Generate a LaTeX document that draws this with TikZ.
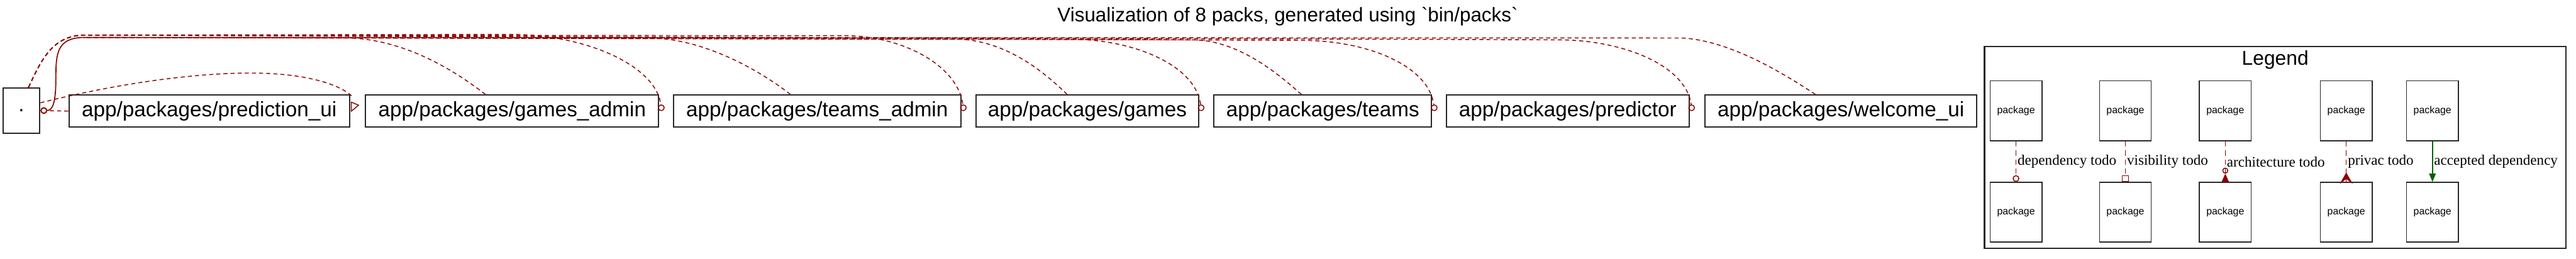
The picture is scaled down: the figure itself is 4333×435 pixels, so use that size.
\documentclass[tikz,border=0pt]{standalone}
\usepackage{fontspec}
\newfontfamily\lsans{Liberation Sans}
\newfontfamily\lserif{Liberation Serif}
\usetikzlibrary{arrows.meta,calc}
\definecolor{dred}{RGB}{139,0,0}
\definecolor{dgreen}{RGB}{0,100,0}
\definecolor{bord}{RGB}{40,40,40}
\begin{document}
\begin{tikzpicture}[x=0.25pt,y=-0.25pt,
 pkg/.style={draw=bord,line width=0.55pt,inner sep=0pt,minimum height=13.5pt,font=\lsans\fontsize{8.8pt}{10pt}\selectfont},
 lpkg/.style={draw=bord,line width=0.45pt,inner sep=0pt,minimum width=21.75pt,minimum height=25pt,font=\lsans\fontsize{4.2pt}{5pt}\selectfont},
 dep/.style={draw=dred,line width=0.38pt,dash pattern=on 1.7pt off 1.3pt},
 ldep/.style={draw=dred,line width=0.38pt,dash pattern=on 2.2pt off 1.6pt},
 odot/.style={-{Circle[open,length=2.8pt,width=2.8pt]}},
 elab/.style={font=\lserif\fontsize{6.1pt}{7pt}\selectfont,anchor=west,inner sep=0.5pt},
]
\useasboundingbox (0,0) rectangle (4333,435);

% title
\node[font=\lsans\fontsize{8.3pt}{10pt}\selectfont,anchor=base] (title) at (2166,37) {Visualization of 8 packs, generated using `bin/packs`};

% package nodes
\node[pkg,minimum width=15.5pt,minimum height=19pt] (dot) at (36,186) {.};
\node[pkg,minimum width=118pt] (pu) at (352,187) {app/packages/prediction\_ui};
\node[pkg,minimum width=123.25pt] (ga) at (861.5,187) {app/packages/games\_admin};
\node[pkg,minimum width=120.75pt] (ta) at (1374.5,187) {app/packages/teams\_admin};
\node[pkg,minimum width=93.5pt] (gm) at (1829,187) {app/packages/games};
\node[pkg,minimum width=91.5pt] (tm) at (2225,187) {app/packages/teams};
\node[pkg,minimum width=102pt] (pr) at (2637,187) {app/packages/predictor};
\node[pkg,minimum width=114.25pt] (wu) at (3096.5,187) {app/packages/welcome\_ui};

\coordinate (split) at (140,59);
\coordinate (merge) at (140,63);

% edges from . to packages
\draw[dep,odot] ([xshift=3pt]dot.north) .. controls (70,100) and (88,61) .. (split) -- (860,58) .. controls (985,58) and (1103,110) .. ($(ga.north east)+(4,28)$);
\draw[dep,odot] ([xshift=3pt]dot.north) .. controls (70,100) and (88,61) .. (split) -- (1420,60) .. controls (1518,60) and (1611,110) .. ($(ta.north east)+(4,28)$);
\draw[dep,odot] ([xshift=3pt]dot.north) .. controls (70,100) and (88,61) .. (split) -- (1800,66) .. controls (1908,66) and (2011,110) .. ($(gm.north east)+(4,28)$);
\draw[dep,odot] ([xshift=3pt]dot.north) .. controls (70,100) and (88,61) .. (split) -- (2190,68) .. controls (2299,68) and (2403,110) .. ($(tm.north east)+(4,28)$);
\draw[dep,odot] ([xshift=3pt]dot.north) .. controls (70,100) and (88,61) .. (split) -- (2620,67) .. controls (2730,67) and (2836,110) .. ($(pr.north east)+(4,28)$);

% edges from packages to .
\draw[dep] ($(ga.north)+(-45,0)$) .. controls (760,115) and (680,68) .. (590,64) -- (merge);
\draw[dep] ($(ta.north)+(-45,0)$) .. controls (1280,120) and (1190,68) .. (1100,64) -- (merge);
\draw[dep] ($(gm.north)+(-34,0)$) .. controls (1750,115) and (1690,70) .. (1615,66) -- (merge);
\draw[dep] ($(tm.north)+(-36,0)$) .. controls (2140,115) and (2080,70) .. (2010,67) -- (merge);
\draw[dep] ($(wu.north)+(-43,0)$) .. controls (2980,110) and (2900,68) .. (2830,64) -- (merge);
\draw[draw=dred,line width=0.45pt,odot] (merge) .. controls (96,64) and (94,90) .. (94,130) .. controls (94,176) and (88,186) .. (dot.east);

% prediction_ui edges
\draw[dep] ($(dot.east)+(0,-13)$) .. controls (200,140) and (330,122) .. (430,123) .. controls (510,124) and (570,140) .. ($(pu.north east)+(4,4)$);
\draw[draw=dred,line width=0.38pt] ($(pu.east)+(2,-15)$) -- ++(12,5) -- ++(-12,10) -- cycle;
\draw[dep,odot] (pu.west) -- (dot.east);

% legend
\node[draw=bord,line width=0.55pt,minimum width=244.5pt,minimum height=85pt,inner sep=0pt] (legend) at (3827,248) {};
\node[font=\lsans\fontsize{8.4pt}{10pt}\selectfont,anchor=base] (legtitle) at (3827,110) {Legend};

\node[lpkg,minimum height=25.25pt] (t1) at (3391,186.5) {package};
\node[lpkg,minimum height=25.25pt] (t2) at (3575,186.5) {package};
\node[lpkg,minimum height=25.25pt] (t3) at (3743,186.5) {package};
\node[lpkg,minimum height=25.25pt] (t4) at (3946.5,186.5) {package};
\node[lpkg,minimum height=25.25pt] (t5) at (4091.5,186.5) {package};
\node[lpkg] (b1) at (3391,357) {package};
\node[lpkg] (b2) at (3575,357) {package};
\node[lpkg] (b3) at (3743,357) {package};
\node[lpkg] (b4) at (3946.5,357) {package};
\node[lpkg] (b5) at (4091.5,357) {package};

\draw[ldep,odot] (t1.south) -- (b1.north) node[elab,midway] {dependency todo};
\draw[ldep,-{Square[open,length=2.75pt,width=3pt]}] (t2.south) -- (b2.north) node[elab,midway] {visibility todo};
\draw[ldep,-{Circle[open,length=2.5pt,width=2.5pt] Triangle[reversed,length=3.5pt,width=3pt]}] (t3.south) -- (b3.north) node[elab,midway] {architecture todo};
\draw[ldep] (t4.south) -- (b4.north) node[elab,midway] {privac todo};
\draw[draw=dred,line width=0.45pt,fill=dred] ($(b4.north)+(-8,0)$) -- ($(b4.north)+(0,-14)$) -- ($(b4.north)+(8,0)$) -- ($(b4.north)+(0,-6)$) -- cycle;
\draw[draw=dgreen,line width=0.4pt,-{Triangle[length=3.5pt,width=2.8pt]}] (t5.south) -- (b5.north) node[elab,midway] {accepted dependency};
\end{tikzpicture}
\end{document}
